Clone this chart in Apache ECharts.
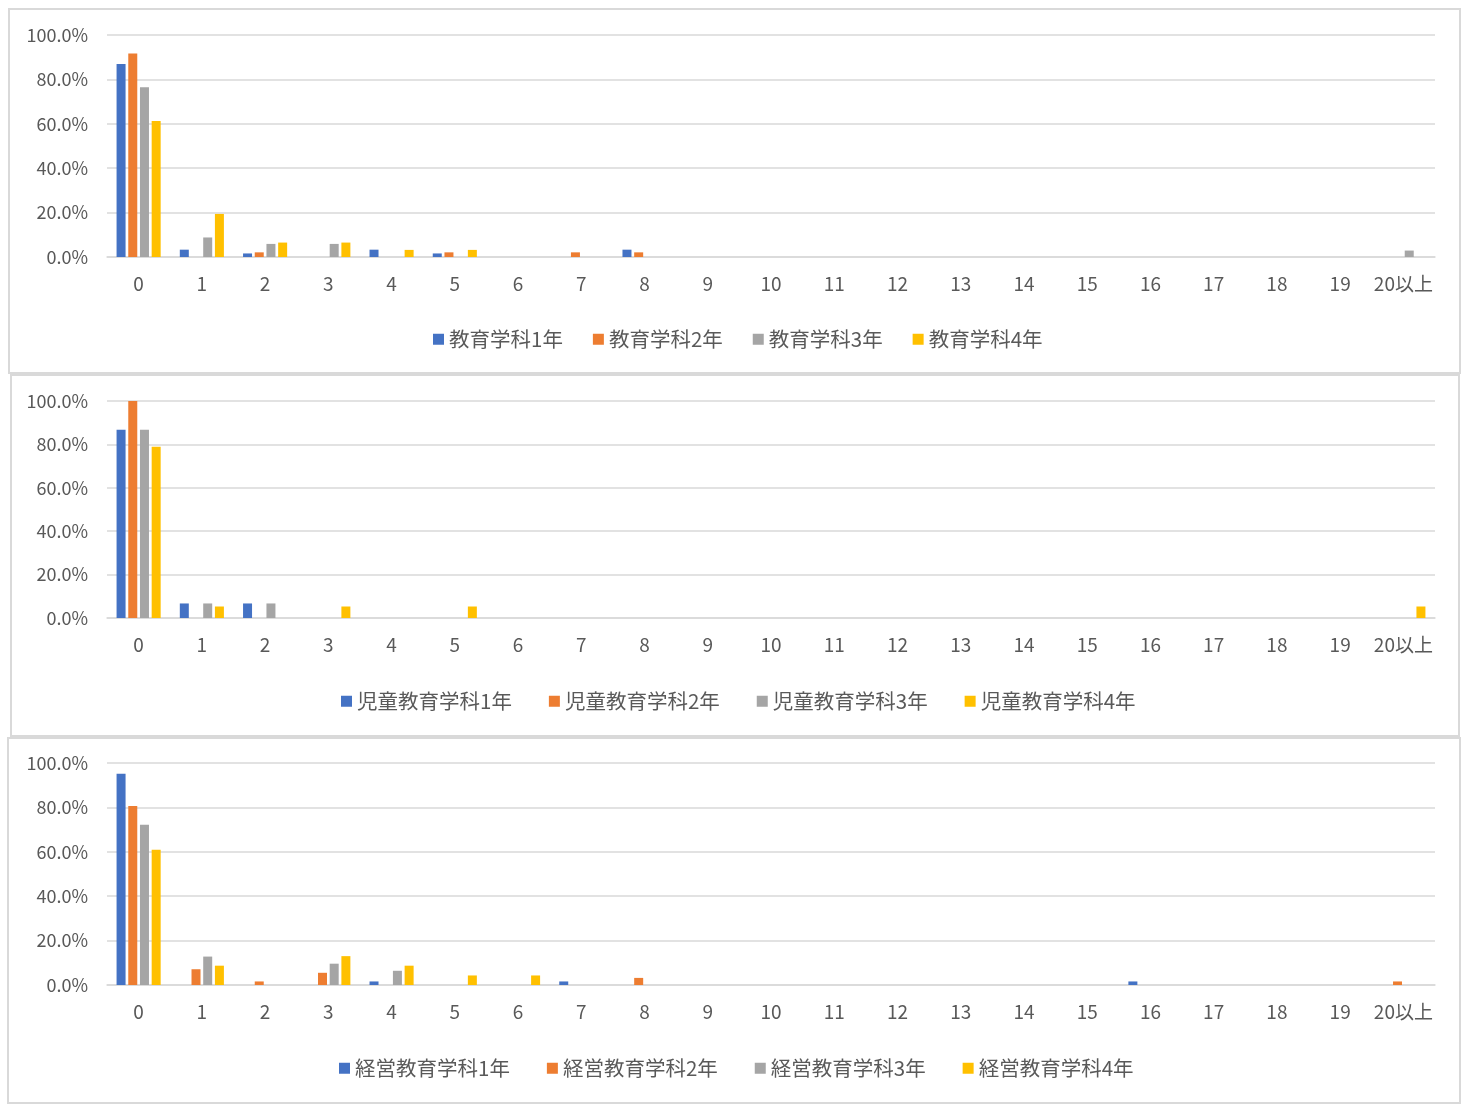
<!DOCTYPE html>
<html>
<head>
<meta charset="utf-8">
<script src="https://cdn.jsdelivr.net/npm/echarts@6/dist/echarts.min.js"></script>
<style>
  html, body { margin: 0; padding: 0; background: #fff; }
  #chart { width: 1461px; height: 1108px; }
</style>
</head>
<body>
<div id="chart"></div>
<script>
// 横軸カテゴリ
const categories = ['0','1','2','3','4','5','6','7','8','9','10','11','12','13','14','15','16','17','18','19','20以上'];

// 教育学科 (%)
const kyoiku1 = [86.9, 3.3, 1.6, 0, 3.3, 1.6, 0, 0, 3.3, 0, 0, 0, 0, 0, 0, 0, 0, 0, 0, 0, 0];
const kyoiku2 = [91.7, 0, 2.1, 0, 0, 2.1, 0, 2.1, 2.1, 0, 0, 0, 0, 0, 0, 0, 0, 0, 0, 0, 0];
const kyoiku3 = [76.5, 8.8, 5.9, 5.9, 0, 0, 0, 0, 0, 0, 0, 0, 0, 0, 0, 0, 0, 0, 0, 0, 2.9];
const kyoiku4 = [61.3, 19.4, 6.5, 6.5, 3.2, 3.2, 0, 0, 0, 0, 0, 0, 0, 0, 0, 0, 0, 0, 0, 0, 0];

// 児童教育学科 (%)
const jido1 = [86.7, 6.7, 6.7, 0, 0, 0, 0, 0, 0, 0, 0, 0, 0, 0, 0, 0, 0, 0, 0, 0, 0];
const jido2 = [100, 0, 0, 0, 0, 0, 0, 0, 0, 0, 0, 0, 0, 0, 0, 0, 0, 0, 0, 0, 0];
const jido3 = [86.7, 6.7, 6.7, 0, 0, 0, 0, 0, 0, 0, 0, 0, 0, 0, 0, 0, 0, 0, 0, 0, 0];
const jido4 = [78.9, 5.3, 0, 5.3, 0, 5.3, 0, 0, 0, 0, 0, 0, 0, 0, 0, 0, 0, 0, 0, 0, 5.3];

// 経営教育学科 (%)
const keiei1 = [95.2, 0, 0, 0, 1.6, 0, 0, 1.6, 0, 0, 0, 0, 0, 0, 0, 0, 1.6, 0, 0, 0, 0];
const keiei2 = [80.6, 7.1, 1.6, 5.5, 0, 0, 0, 0, 3.2, 0, 0, 0, 0, 0, 0, 0, 0, 0, 0, 0, 1.6];
const keiei3 = [72.2, 12.8, 0, 9.6, 6.4, 0, 0, 0, 0, 0, 0, 0, 0, 0, 0, 0, 0, 0, 0, 0, 0];
const keiei4 = [60.9, 8.7, 0, 13.0, 8.7, 4.3, 4.3, 0, 0, 0, 0, 0, 0, 0, 0, 0, 0, 0, 0, 0, 0];

const colors = ['#4472C4', '#ED7D31', '#A5A5A5', '#FFC000'];
const textColor = '#595959';
const font = "'Noto Sans CJK JP', 'Noto Sans', sans-serif";

// パネルごとの設定
const panels = [
  { names: ['教育学科1年', '教育学科2年', '教育学科3年', '教育学科4年'], data: [kyoiku1, kyoiku2, kyoiku3, kyoiku4],
    top: 35, height: 222, legendLeft: 428, legendTop: 324, legendGap: 30, box: [9, 9, 1451, 364] },
  { names: ['児童教育学科1年', '児童教育学科2年', '児童教育学科3年', '児童教育学科4年'], data: [jido1, jido2, jido3, jido4],
    top: 401, height: 217, legendLeft: 336, legendTop: 686, legendGap: 37, box: [11, 375, 1448, 361] },
  { names: ['経営教育学科1年', '経営教育学科2年', '経営教育学科3年', '経営教育学科4年'], data: [keiei1, keiei2, keiei3, keiei4],
    top: 763, height: 222, legendLeft: 334, legendTop: 1053, legendGap: 37, box: [8, 738, 1452, 365] }
];

let grid = [], xAxis = [], yAxis = [], legend = [], series = [], graphic = [];

panels.forEach((p, i) => {
  graphic.push({
    type: 'rect',
    shape: { x: p.box[0], y: p.box[1], width: p.box[2], height: p.box[3] },
    style: { fill: 'none', stroke: '#d9d9d9', lineWidth: 2 },
    silent: true
  });
  grid.push({ left: 107, top: p.top, width: 1328, height: p.height });
  xAxis.push({
    type: 'category',
    gridIndex: i,
    data: categories,
    axisLine: { lineStyle: { color: '#d9d9d9', width: 1.5 } },
    axisTick: { show: false },
    axisLabel: { color: textColor, fontSize: 19, fontFamily: font, margin: 17, interval: 0 }
  });
  yAxis.push({
    type: 'value',
    gridIndex: i,
    min: 0,
    max: 100,
    interval: 20,
    axisLine: { show: false },
    axisTick: { show: false },
    splitLine: { lineStyle: { color: '#d9d9d9', width: 1.5 } },
    axisLabel: { color: textColor, fontSize: 18, fontFamily: font, margin: 19, formatter: v => v.toFixed(1) + '%' }
  });
  legend.push({
    data: p.names,
    left: p.legendLeft,
    top: p.legendTop,
    itemWidth: 11,
    itemHeight: 11,
    itemGap: p.legendGap,
    icon: 'rect',
    textStyle: { color: textColor, fontSize: 20.5, fontFamily: font }
  });
  p.names.forEach((name, k) => {
    series.push({
      name: name,
      type: 'bar',
      xAxisIndex: i,
      yAxisIndex: i,
      data: p.data[k],
      barWidth: 9,
      barGap: '30%',
      itemStyle: { color: colors[k] },
      animation: false
    });
  });
});

let chart = echarts.init(document.getElementById('chart'));
chart.setOption({
  animation: false,
  textStyle: { fontFamily: font },
  graphic: graphic,
  grid: grid,
  xAxis: xAxis,
  yAxis: yAxis,
  legend: legend,
  series: series
});
</script>
</body>
</html>
